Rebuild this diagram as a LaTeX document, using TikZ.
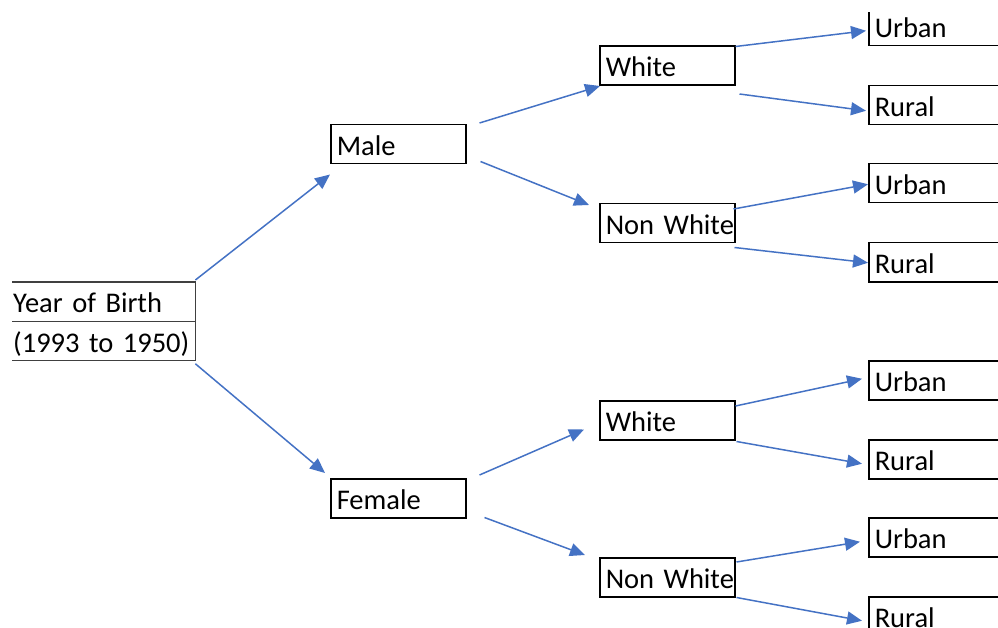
\documentclass[tikz,border=0pt]{standalone}
\usepackage{fontspec}
\setmainfont{Carlito}
\usetikzlibrary{arrows.meta}
\usetikzlibrary{positioning}
\definecolor{officeblue}{HTML}{4472C4}
\tikzset{
    block/.style={
           rectangle,
           draw=black, line width=1.5pt,
           minimum height=39pt,
           text width=123pt,
           inner xsep=6pt,
           inner ysep=0pt,
           text height=22pt, text depth=0pt,
           align=left,
           font=\fontsize{28.5}{34}\selectfont,
           },
    leaf/.style={
           block,
           text width=148pt,
           },
    frameless/.style={
           rectangle,
           %draw=black,
           minimum height=39pt,
           text width=181pt,
           inner xsep=1pt,
           inner ysep=0pt,
           text height=22pt, text depth=0pt,
           align=left,
           font=\fontsize{28.5}{34}\selectfont,
           },
    rule/.style={draw=black!75, line width=1.2pt},
    arr/.style={-{Triangle[length=15pt,width=13pt]}, color=officeblue, line width=1.5pt},
}

\begin{document}
\begin{tikzpicture}[x=1pt,y=-1pt]
	\useasboundingbox (0,0) rectangle (998,628);
	\clip (0,13) rectangle (998,628);

	% root
	\node[frameless, anchor=north west] (birth) at (12,282) {Year of Birth};
	\node[frameless, below=0pt of birth] (span) {(1993 to 1950)};
	\draw[rule] (birth.north west) -- (birth.north east) -- (span.south east) -- (span.south west);
	\draw[rule] (birth.south west) -- (birth.south east);

	% gender
	\node[block, anchor=north west] (male) at (330,124) {Male};
	\node[block, anchor=north west] (female) at (330,478) {Female};

	% race
	\node[block, anchor=north west] (white1) at (599,45.5) {White};
	\node[block, anchor=north west] (nonwhite1) at (599,203) {Non~White};
	\node[block, anchor=north west] (white2) at (599,400) {White};
	\node[block, anchor=north west] (nonwhite2) at (599,557) {Non~White};

	% area
	\node[leaf, anchor=north west] (urban1) at (868,6) {Urban};
	\node[leaf, anchor=north west] (rural1) at (868,85) {Rural};
	\node[leaf, anchor=north west] (urban2) at (868,163) {Urban};
	\node[leaf, anchor=north west] (rural2) at (868,242) {Rural};
	\node[leaf, anchor=north west] (urban3) at (868,360) {Urban};
	\node[leaf, anchor=north west] (rural3) at (868,439) {Rural};
	\node[leaf, anchor=north west] (urban4) at (868,517) {Urban};
	\node[leaf, anchor=north west] (rural4) at (868,596) {Rural};

	\path[arr] ([yshift=2pt]birth.north east) edge ([yshift=-10pt]male.south west);
	\path[arr] ([yshift=-3pt]span.south east) edge ([xshift=-5pt,yshift=5pt]female.north west);

	\path[arr] ([xshift=13pt,yshift=1pt]male.north east) edge ([xshift=1pt]white1.south west);
	\path[arr] ([xshift=14pt,yshift=3pt]male.south east) edge ([xshift=-10pt,yshift=-2pt]nonwhite1.north west);
	\path[arr] ([xshift=13pt,yshift=3pt]female.north east) edge ([xshift=-15pt,yshift=11pt]white2.south west);
	\path[arr] ([xshift=18pt,yshift=1pt]female.south east) edge ([xshift=-14pt,yshift=2pt]nonwhite2.north west);

	\path[arr] ([yshift=-1pt]white1.north east) edge ([xshift=-2pt,yshift=-4.5pt]urban1.west);
	\path[arr] ([xshift=4pt,yshift=-8pt]white1.south east) edge ([xshift=-2pt,yshift=-5.5pt]rural1.west);
	\path[arr] ([xshift=-2pt,yshift=-6pt]nonwhite1.north east) edge ([yshift=-1pt]urban2.west);
	\path[arr] ([xshift=-1pt,yshift=-4pt]nonwhite1.south east) edge ([yshift=-0.5pt]rural2.west);
	\path[arr] ([yshift=-6pt]white2.north east) edge ([xshift=-6pt,yshift=1.5pt]urban3.west);
	\path[arr] ([xshift=1pt,yshift=-1pt]white2.south east) edge ([xshift=-6pt,yshift=-4.5pt]rural3.west);
	\path[arr] ([xshift=1pt,yshift=-5pt]nonwhite2.north east) edge ([xshift=-8pt,yshift=-4.5pt]urban4.west);
	\path[arr] ([xshift=1pt]nonwhite2.south east) edge ([xshift=-6pt,yshift=-4.5pt]rural4.west);
\end{tikzpicture}
\end{document}
